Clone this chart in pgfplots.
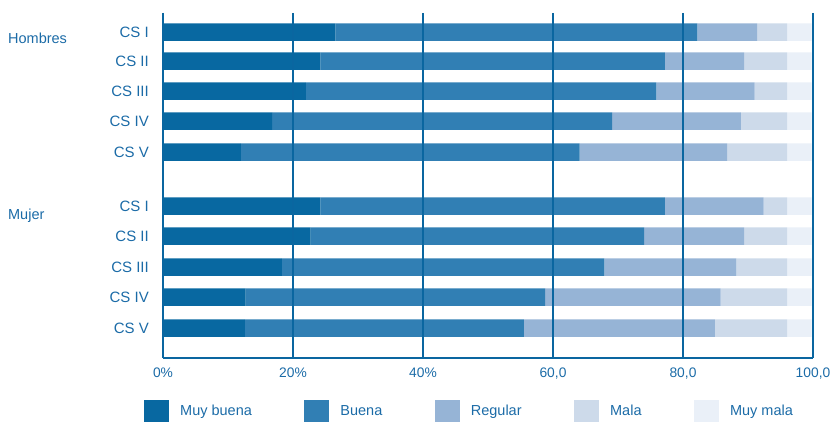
\documentclass[border=0pt]{standalone}
\usepackage{pgfplots}
\pgfplotsset{compat=1.18}
\usepackage{pgfplotstable}
\usepackage{fontspec}
\setmainfont{Liberation Sans}
\definecolor{cMB}{HTML}{0868A1}
\definecolor{cB}{HTML}{317FB4}
\definecolor{cR}{HTML}{96B4D6}
\definecolor{cM}{HTML}{CDDAEA}
\definecolor{cMM}{HTML}{EAF0F8}
\definecolor{txt}{HTML}{1B6BA7}
\definecolor{grd}{HTML}{0A66A0}
\pgfplotstableread{
y mb b r m mm
32 26.5 55.7 9.2 4.6 3.8
61 24.2 53.0 12.2 6.6 3.8
91 22.0 53.9 15.1 5.0 3.8
121 16.8 52.3 19.8 7.1 3.8
152 12.0 52.1 22.7 9.2 3.8
206 24.2 53.0 15.2 3.6 3.8
236 22.7 51.3 15.4 6.6 3.8
267 18.3 49.6 20.3 7.8 3.8
297 12.7 46.1 27.0 10.2 3.8
328 12.6 42.9 29.4 11.1 3.8
}\data
\begin{document}
\begin{tikzpicture}
\path[use as bounding box] (-163bp,-64bp) rectangle (669bp,358bp);
\begin{axis}[
  scale only axis, width=650bp, height=345bp,
  at={(0,0)}, anchor=south west,
  xbar stacked, bar width=17.5bp,
  y dir=reverse,
  xmin=0, xmax=100, ymin=13, ymax=358,
  clip=false,
  axis on top,
  axis x line*=bottom, axis y line*=left,
  axis line style={color=grd, line width=1.2bp},
  xtick={0,20,40,60,80,100},
  xticklabels={0\%,20\%,40\%,{60,0},{80,0},{100,0}},
  ytick={32,61,91,121,152,206,236,267,297,328},
  yticklabels={CS I,CS II,CS III,CS IV,CS V,CS I,CS II,CS III,CS IV,CS V},
  major tick length=0pt,
  xmajorgrids, ymajorgrids=false,
  major grid style={color=grd, line width=1.2bp},
  ticklabel style={text=txt},
  yticklabel style={inner sep=0pt, xshift=-14bp, font=\fontsize{15bp}{17bp}\selectfont},
  xticklabel style={inner sep=0pt, yshift=-10bp, font=\fontsize{13.8bp}{16bp}\selectfont},
  legend columns=5,
  legend style={at={(rel axis cs:0,0)}, anchor=north west, xshift=-19bp, yshift=-42bp,
    draw=none, fill=none, inner sep=0pt,
    font=\fontsize{14.5bp}{17bp}\selectfont, text=txt,
    nodes={inner sep=0pt},
    /tikz/every odd column/.append style={column sep=11bp},
    /tikz/every even column/.append style={column sep=52.5bp}},
  legend image code/.code={\fill[#1] (0bp,-11bp) rectangle (25bp,11bp);},
  legend cell align=left,
]
\addplot[fill=cMB, draw=none] table[x=mb, y=y] {\data};
\addplot[fill=cB, draw=none] table[x=b, y=y] {\data};
\addplot[fill=cR, draw=none] table[x=r, y=y] {\data};
\addplot[fill=cM, draw=none] table[x=m, y=y] {\data};
\addplot[fill=cMM, draw=none] table[x=mm, y=y] {\data};
\legend{Muy buena, Buena, Regular, Mala, Muy mala}
\node[anchor=west, inner sep=0pt, text=txt, font=\fontsize{14.5bp}{17bp}\selectfont] at (axis cs:-23.85,38) {Hombres};
\node[anchor=west, inner sep=0pt, text=txt, font=\fontsize{14.5bp}{17bp}\selectfont] at (axis cs:-23.85,216) {Mujer};
\end{axis}
\end{tikzpicture}
\end{document}
